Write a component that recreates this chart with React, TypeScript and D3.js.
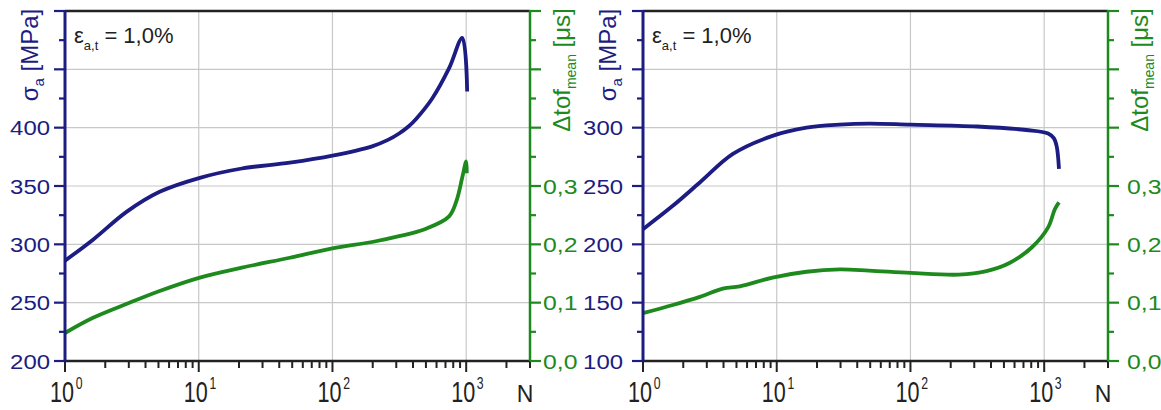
import React from "react";
import * as d3 from "d3";

const W = 1161;
const H = 410;
const navy = "#1c1c82";
const green = "#1e8a1e";
const font = "'Liberation Sans', Arial, sans-serif";

// left panel: sigma_a and delta tof vs N
const nSigmaLeft = [1, 1.62, 2.9, 5.1, 10.2, 21, 48, 100, 198, 260, 315, 370, 422, 557, 745, 935, 1017];
const sigmaLeft = [286, 304, 328, 345, 357, 365, 370, 376, 384, 389.5, 395, 401, 407.5, 425, 451, 477, 431];
const nTofLeft = [1, 1.62, 2.9, 5.1, 10.2, 21, 48, 100, 198, 315, 490, 745, 850, 935, 1000, 1010];
const tofLeft = [0.048, 0.074, 0.098, 0.12, 0.143, 0.16, 0.177, 0.193, 0.204, 0.214, 0.226, 0.248, 0.276, 0.315, 0.342, 0.322];

// right panel
const nSigmaRight = [1, 1.67, 2.66, 4.7, 9.3, 16.7, 29.5, 49, 100, 315, 735, 1070, 1180, 1240, 1290];
const sigmaRight = [213, 233, 253, 277.5, 293, 300, 302.6, 303.5, 302.6, 301, 298, 295, 291, 284, 264.6];
const nTofRight = [1, 1.67, 2.66, 3.95, 5.3, 9.3, 16.7, 29.5, 49, 100, 230, 370, 550, 810, 1070, 1200, 1290];
const tofRight = [0.082, 0.096, 0.11, 0.124, 0.128, 0.143, 0.153, 0.157, 0.155, 0.151, 0.148, 0.154, 0.168, 0.195, 0.229, 0.26, 0.272];

const sigmaLabelsLeft = [200, 250, 300, 350, 400];
const sigmaLabelsRight = [100, 150, 200, 250, 300];
const tofLabels = [0, 0.1, 0.2, 0.3];
const decades = [0, 1, 2, 3];

const Panel = (props: any) => {
    const {x0, x1, sDomain, nS, sVals, nT, tVals, sLabels, sLabelGap, tLabelGap} = props;
    const top = 11, bottom = 361;
    const x = d3.scaleLog().domain([1, 3000]).range([x0, x1]);
    const yS = d3.scaleLinear().domain(sDomain).range([bottom, top]);
    const yT = d3.scaleLinear().domain([0, 0.6]).range([bottom, top]);

    const lineS = d3.line<number>().x((d, i) => x(nS[i])).y(d => yS(d)).curve(d3.curveCatmullRom.alpha(0.5));
    const lineT = d3.line<number>().x((d, i) => x(nT[i])).y(d => yT(d)).curve(d3.curveCatmullRom.alpha(0.5));

    const sMajor = d3.range(sDomain[0], sDomain[1] + 1, 50);
    const sMinor = d3.range(sDomain[0] + 25, sDomain[1], 50);
    const tMajor = d3.range(0, 0.61, 0.1);
    const tMinor = d3.range(0.05, 0.6, 0.1);

    const logTicks: {v: number, major: boolean}[] = [];
    decades.forEach(d => {
        for (let m = 1; m <= 9; m++) {
            const v = m * Math.pow(10, d);
            if (v <= 3000) logTicks.push({v, major: m === 1});
        }
    });

    return (
        <g>
            {/* grid */}
            {[10, 100, 1000].map(v => (
                <line key={"gx" + v} x1={x(v)} x2={x(v)} y1={top} y2={bottom} stroke="#c8c8c8" strokeWidth={1.2}/>
            ))}
            {sMajor.slice(1, -1).map(v => (
                <line key={"gy" + v} x1={x0} x2={x1} y1={yS(v)} y2={yS(v)} stroke="#c8c8c8" strokeWidth={1.2}/>
            ))}

            {/* curves */}
            <path d={lineT(tVals) || ""} fill="none" stroke={green} strokeWidth={3.8} strokeLinejoin="round"/>
            <path d={lineS(sVals) || ""} fill="none" stroke={navy} strokeWidth={3.8} strokeLinejoin="round"/>

            {/* frame top */}
            <line x1={x0} x2={x1} y1={top} y2={top} stroke="#222" strokeWidth={2.5}/>

            {/* bottom axis */}
            {logTicks.map(t => (
                <line key={"xt" + t.v} x1={x(t.v)} x2={x(t.v)} y1={bottom} y2={bottom + (t.major ? 11 : 7)} stroke="#222" strokeWidth={2}/>
            ))}
            <line x1={x0} x2={x1} y1={bottom} y2={bottom} stroke="#222" strokeWidth={2.5}/>
            {decades.map(d => (
                <g key={"xl" + d} transform={`translate(${x(Math.pow(10, d)) - 3},402) scale(0.72,1)`} fontFamily={font} fill="#222">
                    <text x={0} y={0} textAnchor="middle" fontSize={30}>10</text>
                    <text x={19} y={-13} textAnchor="start" fontSize={17}>{d}</text>
                </g>
            ))}
            <text x={x1 - 5} y={402} textAnchor="middle" fontFamily={font} fontSize={23} fill="#222">N</text>

            {/* left axis */}
            {sMajor.map(v => (
                <line key={"ls" + v} x1={x0 - 11} x2={x0} y1={yS(v)} y2={yS(v)} stroke={navy} strokeWidth={2.2}/>
            ))}
            {sMinor.map(v => (
                <line key={"lm" + v} x1={x0 - 6} x2={x0} y1={yS(v)} y2={yS(v)} stroke={navy} strokeWidth={2.2}/>
            ))}
            <line x1={x0} x2={x0} y1={top - 1} y2={bottom} stroke={navy} strokeWidth={3}/>
            {sLabels.map((v: number) => (
                <text key={"sl" + v} transform={`translate(${x0 - sLabelGap},${yS(v)}) scale(1.14,1)`} dy="0.36em" textAnchor="end" fontFamily={font} fontSize={21} fill={navy}>{v}</text>
            ))}
            <text transform={`translate(${x0 - 27},55) rotate(-90)`} textAnchor="middle" fontFamily={font} fontSize={24} fill={navy}>
                σ<tspan fontSize={15} dy={6}>a</tspan><tspan dy={-6}> [MPa]</tspan>
            </text>

            {/* right axis */}
            {tMajor.map(v => (
                <line key={"rt" + v} x1={x1} x2={x1 + 11} y1={yT(v)} y2={yT(v)} stroke={green} strokeWidth={2.2}/>
            ))}
            {tMinor.map(v => (
                <line key={"rm" + v} x1={x1} x2={x1 + 6} y1={yT(v)} y2={yT(v)} stroke={green} strokeWidth={2.2}/>
            ))}
            <line x1={x1} x2={x1} y1={top - 1} y2={bottom} stroke={green} strokeWidth={2.5}/>
            {tofLabels.map(v => (
                <text key={"tl" + v} transform={`translate(${x1 + tLabelGap},${yT(v)}) scale(1.18,1)`} dy="0.36em" textAnchor="start" fontFamily={font} fontSize={21} fill={green}>{d3.format(".1f")(v).replace(".", ",")}</text>
            ))}
            <text transform={`translate(${x1 + 40},70) rotate(-90)`} textAnchor="middle" fontFamily={font} fontSize={24} fill={green}>
                Δtof<tspan fontSize={14} dy={6}>mean</tspan><tspan dy={-6}> [μs]</tspan>
            </text>

            {/* annotation */}
            <text x={x0 + 9} y={43} fontFamily={font} fontSize={22} fill="#222">
                ε<tspan fontSize={13} dy={7}>a,t</tspan><tspan dy={-7}> = 1,0%</tspan>
            </text>
        </g>
    );
};

const App = () => {
    return (
        <svg width={W} height={H} viewBox={`0 0 ${W} ${H}`} style={{position: "absolute", left: 0, top: 0, background: "#fff"}}>
            <rect x={0} y={0} width={W} height={H} fill="#fff"/>
            <Panel x0={65} x1={530} sDomain={[200, 500]} nS={nSigmaLeft} sVals={sigmaLeft}
                   nT={nTofLeft} tVals={tofLeft} sLabels={sigmaLabelsLeft} sLabelGap={15} tLabelGap={13}/>
            <Panel x0={643} x1={1108} sDomain={[100, 400]} nS={nSigmaRight} sVals={sigmaRight}
                   nT={nTofRight} tVals={tofRight} sLabels={sigmaLabelsRight} sLabelGap={20} tLabelGap={19}/>
        </svg>
    );
};

export default App;
